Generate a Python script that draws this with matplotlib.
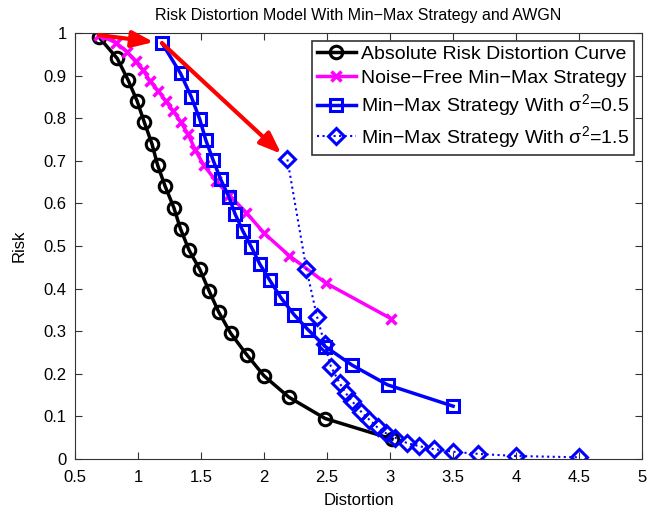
import matplotlib
matplotlib.use('Agg')
import matplotlib.pyplot as plt
from matplotlib.ticker import FormatStrFormatter

plt.rcParams['font.family'] = ['Liberation Sans', 'DejaVu Sans']
plt.rcParams['mathtext.fontset'] = 'custom'
plt.rcParams['mathtext.rm'] = 'Liberation Sans'
plt.rcParams['mathtext.it'] = 'Liberation Sans'

# Absolute risk distortion curve
abs_x = [0.69, 0.835, 0.92, 0.993, 1.05, 1.11, 1.155, 1.215, 1.284, 1.337,
         1.405, 1.49, 1.563, 1.64, 1.735, 1.862, 2.0, 2.197, 2.485, 3.015]
abs_y = [0.99, 0.94, 0.89, 0.84, 0.79, 0.74, 0.69, 0.64, 0.59, 0.54,
         0.49, 0.445, 0.395, 0.345, 0.295, 0.245, 0.195, 0.145, 0.095, 0.047]

# Noise-free min-max strategy
nf_x = [0.69, 0.825, 0.91, 0.98, 1.04, 1.094, 1.16, 1.22, 1.278, 1.337,
        1.397, 1.455, 1.52, 1.62, 1.72, 1.86, 2.0, 2.2, 2.49, 3.01]
nf_y = [0.995, 0.977, 0.956, 0.933, 0.913, 0.887, 0.864, 0.84, 0.817, 0.792,
        0.762, 0.725, 0.69, 0.652, 0.62, 0.578, 0.53, 0.477, 0.413, 0.329]

# Min-max strategy, sigma^2 = 0.5
s05_x = [1.19, 1.337, 1.424, 1.49, 1.537, 1.595, 1.656, 1.72, 1.77, 1.83,
         1.9, 1.965, 2.044, 2.137, 2.24, 2.35, 2.485, 2.7, 2.98, 3.5]
s05_y = [0.976, 0.905, 0.849, 0.797, 0.749, 0.702, 0.656, 0.616, 0.575, 0.536,
         0.497, 0.458, 0.42, 0.377, 0.338, 0.303, 0.264, 0.22, 0.174, 0.124]

# Min-max strategy, sigma^2 = 1.5
s15_x = [2.185, 2.335, 2.42, 2.48, 2.53, 2.6, 2.65, 2.7, 2.77, 2.836,
         2.9, 2.97, 3.04, 3.13, 3.23, 3.35, 3.5, 3.7, 4.0, 4.5]
s15_y = [0.703, 0.447, 0.334, 0.27, 0.217, 0.178, 0.154, 0.135, 0.111, 0.092,
         0.074, 0.06, 0.05, 0.038, 0.03, 0.023, 0.017, 0.012, 0.007, 0.004]

fig = plt.figure(figsize=(6.58, 5.14), dpi=100)
ax = fig.add_axes([0.114, 0.107, 0.862, 0.829])

ax.plot(abs_x, abs_y, color='black', lw=2.5, marker='o', ms=9, mfc='none',
        mew=2.2, label='Absolute Risk Distortion Curve')
ax.plot(nf_x, nf_y, color='#FF00FF', lw=2.5, marker='x', ms=7, mew=2.5,
        label='Noise\u2212Free Min\u2212Max Strategy')
ax.plot(s05_x, s05_y, color='#0000FF', lw=2.5, marker='s', ms=8.5, mfc='none',
        mew=2.2, label='Min\u2212Max Strategy With $\\sigma^2$=0.5')
ax.plot(s15_x, s15_y, color='#0000FF', lw=1.5, ls=':', marker='D', ms=8.5,
        mfc='none', mew=2.2, label='Min\u2212Max Strategy With $\\sigma^2$=1.5')

# red arrows linking the starting points of the strategies
arrow = dict(arrowstyle='-|>,head_length=1.3,head_width=0.5', color='red',
             lw=3, shrinkA=0, shrinkB=6)
ax.annotate('', xy=(s05_x[0], s05_y[0]), xytext=(nf_x[0], nf_y[0]),
            arrowprops=arrow)
ax.annotate('', xy=(s15_x[0], s15_y[0]), xytext=(s05_x[0], s05_y[0]),
            arrowprops=arrow)

ax.set_xlim(0.5, 5)
ax.set_ylim(0, 1)
ax.set_xticks([0.5, 1, 1.5, 2, 2.5, 3, 3.5, 4, 4.5, 5])
ax.set_yticks([0, 0.1, 0.2, 0.3, 0.4, 0.5, 0.6, 0.7, 0.8, 0.9, 1])
ax.xaxis.set_major_formatter(FormatStrFormatter('%g'))
ax.yaxis.set_major_formatter(FormatStrFormatter('%g'))
ax.tick_params(direction='in', top=True, right=True, labelsize=12,
               length=5, color='#333333')
ax.tick_params(axis='x', pad=8)
ax.tick_params(axis='y', pad=6)
for s in ax.spines.values():
    s.set_color('#333333')

ax.set_title('Risk Distortion Model With Min\u2212Max Strategy and AWGN',
             fontsize=11.5, pad=9)
ax.set_xlabel('Distortion', fontsize=12, labelpad=6)
ax.set_ylabel('Risk', fontsize=12, labelpad=12)

leg = ax.legend(loc='upper right', fontsize=14, fancybox=False,
                edgecolor='#333333', framealpha=1, handlelength=2.0,
                handletextpad=0.3, borderpad=0.25, labelspacing=0.3,
                borderaxespad=0.4)
leg.get_frame().set_linewidth(1.2)

fig.savefig('out.png', dpi=100)
